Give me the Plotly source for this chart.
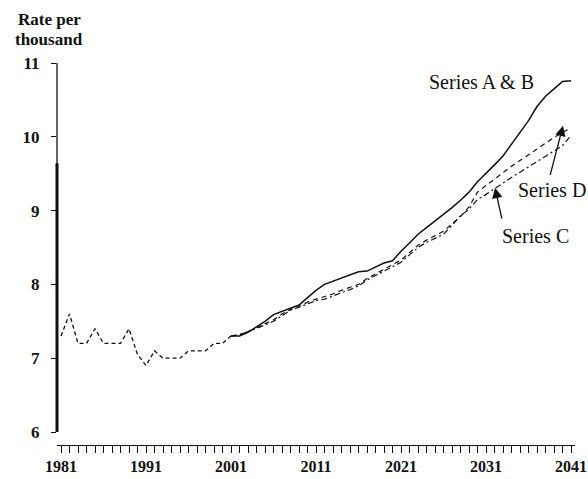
import plotly.graph_objects as go

# Historical series (1981-2001)
hist_years = list(range(1981, 2002))
hist_vals = [7.3, 7.6, 7.2, 7.2, 7.4, 7.2, 7.2, 7.2, 7.4, 7.05, 6.9, 7.1, 7.0, 7.0, 7.0,
             7.1, 7.1, 7.1, 7.2, 7.2, 7.3]

# Projections (2001-2041)
proj_years = list(range(2001, 2042))
series_ab = [7.3, 7.3, 7.35, 7.42, 7.5, 7.59, 7.63, 7.67, 7.72, 7.82, 7.92, 8.0, 8.04, 8.08,
             8.13, 8.17, 8.18, 8.24, 8.29, 8.32, 8.45, 8.56, 8.68, 8.77, 8.86, 8.94, 9.04,
             9.14, 9.25, 9.39, 9.5, 9.62, 9.74, 9.9, 10.05, 10.22, 10.41, 10.55, 10.65,
             10.75, 10.76]
series_c = [7.3, 7.32, 7.36, 7.4, 7.45, 7.5, 7.58, 7.65, 7.69, 7.74, 7.78, 7.8, 7.84, 7.88,
            7.93, 7.98, 8.06, 8.12, 8.18, 8.24, 8.3, 8.4, 8.5, 8.57, 8.63, 8.68, 8.8, 8.93,
            9.02, 9.15, 9.22, 9.3, 9.38, 9.45, 9.52, 9.59, 9.66, 9.73, 9.8, 9.88, 10.02]
series_d = [7.3, 7.32, 7.36, 7.41, 7.46, 7.52, 7.6, 7.66, 7.7, 7.76, 7.8, 7.83, 7.87, 7.92,
            7.96, 8.0, 8.08, 8.14, 8.2, 8.26, 8.33, 8.43, 8.53, 8.6, 8.66, 8.72, 8.82, 8.92,
            9.05, 9.25, 9.34, 9.43, 9.52, 9.6, 9.68, 9.76, 9.84, 9.92, 9.99, 10.06, 10.12]

x_tick_vals = [1981, 1991, 2001, 2011, 2021, 2031, 2041]
y_tick_vals = [6, 7, 8, 9, 10, 11]

FONT = "Liberation Serif"
INK = "#111111"

fig = go.Figure()
fig.add_trace(go.Scatter(x=hist_years, y=hist_vals, mode="lines",
                         line=dict(color=INK, width=1.3, dash="4px,3px"), name="Historical"))
fig.add_trace(go.Scatter(x=proj_years, y=series_c, mode="lines",
                         line=dict(color=INK, width=1.2, dash="6px,3px,2px,3px"), name="Series C"))
fig.add_trace(go.Scatter(x=proj_years, y=series_d, mode="lines",
                         line=dict(color=INK, width=1.2, dash="5px,4px"), name="Series D"))
fig.add_trace(go.Scatter(x=proj_years, y=series_ab, mode="lines",
                         line=dict(color=INK, width=1.5), name="Series A & B"))

# y-axis line drawn from 6 to 11
fig.add_shape(type="line", xref="paper", yref="y", x0=0, x1=0, y0=6, y1=11,
              line=dict(color=INK, width=1.3))
fig.add_shape(type="line", xref="paper", yref="y", x0=0, x1=0, y0=6, y1=9.64,
              line=dict(color=INK, width=3))

ann_font = dict(family=FONT, size=20, color=INK)
fig.add_annotation(x=2024.06, y=10.74, xref="x", yref="y", text="Series A &amp; B",
                   showarrow=False, xanchor="left", yanchor="middle", font=ann_font)
fig.add_annotation(x=2034.5, y=9.28, xref="x", yref="y", text="Series D",
                   showarrow=False, xanchor="left", yanchor="middle", font=ann_font)
fig.add_annotation(x=2032.7, y=8.66, xref="x", yref="y", text="Series C",
                   showarrow=False, xanchor="left", yanchor="middle", font=ann_font)
# arrows
fig.add_annotation(x=2040.06, y=10.15, ax=2038.5, ay=9.46, xref="x", yref="y",
                   axref="x", ayref="y", text="", showarrow=True, arrowhead=2,
                   arrowsize=1.6, arrowwidth=1.3, arrowcolor=INK)
fig.add_annotation(x=2032.06, y=9.31, ax=2032.9, ay=8.87, xref="x", yref="y",
                   axref="x", ayref="y", text="", showarrow=True, arrowhead=2,
                   arrowsize=1.6, arrowwidth=1.3, arrowcolor=INK)

# axis title (two lines)
title_font = dict(family=FONT, size=17, color=INK, weight="bold")
fig.add_annotation(x=-0.0154, y=1.1126, xref="paper", yref="paper", text="Rate per",
                   showarrow=False, xanchor="center", yanchor="middle", font=title_font)
fig.add_annotation(x=-0.0154, y=1.0628, xref="paper", yref="paper", text="thousand",
                   showarrow=False, xanchor="center", yanchor="middle", font=title_font)

fig.update_layout(
    width=588, height=479,
    margin=dict(l=57, r=13, t=63, b=34, autoexpand=False),
    paper_bgcolor="white", plot_bgcolor="white",
    showlegend=False,
    font=dict(family=FONT, color=INK),
    xaxis=dict(range=[1980.53, 2041.47], tickvals=x_tick_vals,
               ticktext=[str(v) for v in x_tick_vals], automargin=False,
               ticks="outside", ticklen=7, tickwidth=1.3, tickcolor=INK,
               showline=True, linecolor=INK, linewidth=1.3,
               showgrid=False, zeroline=False,
               minor=dict(dtick=1, tick0=1981, ticks="outside", ticklen=7,
                          tickwidth=1.3, tickcolor=INK, showgrid=False),
               tickfont=dict(family=FONT, size=16, color=INK, weight="bold")),
    yaxis=dict(range=[5.824, 11.0], tickvals=y_tick_vals,
               ticktext=[str(v) for v in y_tick_vals], automargin=False,
               ticks="outside", ticklen=5, tickwidth=1.3, tickcolor=INK,
               showline=False, showgrid=False, zeroline=False,
               ticklabelstandoff=8,
               tickfont=dict(family=FONT, size=17, color=INK, weight="bold")),
)

fig.write_html("out.html", config={"displayModeBar": False},
               post_script="document.body.style.margin='0';document.body.style.overflow='hidden';")
